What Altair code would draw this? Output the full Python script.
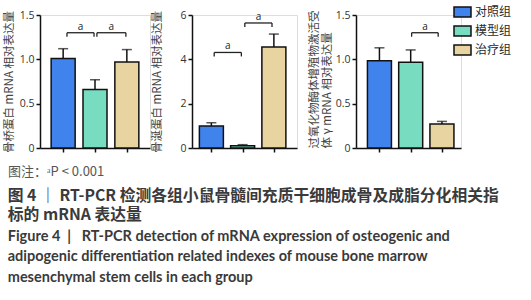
import altair as alt
import pandas as pd

groups = ["对照组", "模型组", "治疗组"]
colors = ["#4083ec", "#77dcc0", "#e8d4a0"]

# panel values (mean, error)
opn_mean = [1.01, 0.66, 0.97]
opn_err = [0.11, 0.11, 0.14]
bsp_mean = [0.99, 0.10, 4.56]
bsp_err = [0.15, 0.05, 0.58]
ppar_mean = [0.985, 0.966, 0.27]
ppar_err = [0.145, 0.14, 0.03]

titles = [
    "骨桥蛋白 mRNA 相对表达量",
    "骨涎蛋白 mRNA 相对表达量",
    ["过氧化物酶体增殖物激活受", "体 γ mRNA 相对表达量"],
]
y_max = [1.5, 6, 1.5]
y_ticks = [[0, 0.5, 1.0, 1.5], [0, 2, 4, 6], [0, 0.5, 1.0, 1.5]]

# significance brackets: start idx, end idx, height, label
br1_start, br1_end, br1_h = [0.12, 1.06], [0.97, 1.97], [1.30, 1.30]
br2_start, br2_end, br2_h = [0.09, 1.07], [0.96, 1.94], [4.31, 5.64]
br3_start, br3_end, br3_h = [1.03], [1.88], [1.30]

caption_note = "图注：ᵃP < 0.001"
caption_cn = ["图 4 ｜ RT-PCR 检测各组小鼠骨髓间充质干细胞成骨及成脂分化相关指", "标的 mRNA 表达量"]
caption_en = [
    "Figure 4\u00a0\u00a0|\u00a0\u00a0 RT-PCR detection of mRNA expression of osteogenic and",
    "adipogenic differentiation related indexes of mouse bone marrow",
    "mesenchymal stem cells in each group",
]

CJK = "Noto Sans CJK SC"


def panel(means, errs, title, ymax, ticks, bs, be, bh, xdom, width, tpad, legend=False, note=False):
    df = pd.DataFrame({
        "idx": [0, 1, 2],
        "group": groups,
        "value": means,
        "top": [m + e for m, e in zip(means, errs)],
    })
    bdf = pd.DataFrame({"x1": bs, "x2": be, "h": bh, "label": ["a"] * len(bs)})
    xs = alt.Scale(domain=xdom, nice=False, zero=False)
    ys = alt.Scale(domain=[0, ymax], nice=False)
    fmt = "datum.value == 0 ? '0' : format(datum.value, '.1f')" if ymax < 2 else "format(datum.value, 'd')"
    xaxis = alt.Axis(values=[0, 1, 2], labels=False, title=None, grid=False,
                     tickSize=4, tickWidth=1.5, domainWidth=1.5,
                     domainColor="#111", tickColor="#111")
    extra = {}
    if isinstance(title, list):
        extra = dict(titleAnchor="start", titleAlign="left")
    yaxis = alt.Axis(values=ticks, labelExpr=fmt, title=title, grid=False,
                     tickSize=4, tickWidth=1.5, domainWidth=1.5,
                     domainColor="#111", tickColor="#111",
                     labelFontSize=10.5, labelColor="#333", labelPadding=2,
                     titleFontSize=11.5, titleFont=CJK, titleFontWeight="normal",
                     titleColor="#444", titlePadding=tpad, titleLineHeight=13,
                     labelFont="Open Sans", **extra)
    if legend:
        leg = alt.Legend(title=None, orient="none", legendX=100.5, legendY=-9,
                         symbolType="M-1.7,-1L1.7,-1L1.7,1L-1.7,1Z", symbolSize=100,
                         symbolStrokeColor="#111", symbolStrokeWidth=1.5, symbolOpacity=1,
                         labelFont=CJK, labelFontSize=12, labelColor="#2a2a2a",
                         labelOffset=6.5, rowPadding=3, padding=0)
    else:
        leg = None
    bars = alt.Chart(df).mark_bar(size=24, stroke="#111", strokeWidth=1.5, opacity=1).encode(
        x=alt.X("idx:Q", scale=xs, axis=xaxis),
        y=alt.Y("value:Q", scale=ys, axis=yaxis),
        color=alt.Color("group:N", scale=alt.Scale(domain=groups, range=colors), legend=leg),
    )
    err = alt.Chart(df).mark_rule(strokeWidth=1.5, color="#111").encode(
        x=alt.X("idx:Q", scale=xs), y=alt.Y("value:Q", scale=ys), y2="top:Q")
    cap = alt.Chart(df).mark_tick(orient="horizontal", size=10, thickness=1.5, color="#111").encode(
        x=alt.X("idx:Q", scale=xs), y=alt.Y("top:Q", scale=ys))
    leg_len = ymax * 0.03
    bb = alt.Chart(bdf).transform_calculate(
        low=f"datum.h - {leg_len}", mid="(datum.x1 + datum.x2) / 2")
    hline = bb.mark_rule(strokeWidth=1.3, color="#222").encode(
        x=alt.X("x1:Q", scale=xs), x2="x2:Q", y=alt.Y("h:Q", scale=ys))
    lleg = bb.mark_rule(strokeWidth=1.3, color="#222").encode(
        x=alt.X("x1:Q", scale=xs), y=alt.Y("h:Q", scale=ys), y2="low:Q")
    rleg = bb.mark_rule(strokeWidth=1.3, color="#222").encode(
        x=alt.X("x2:Q", scale=xs), y=alt.Y("h:Q", scale=ys), y2="low:Q")
    lab = bb.mark_text(fontSize=10, dy=-6, color="#222", font="Open Sans").encode(
        x=alt.X("mid:Q", scale=xs), y=alt.Y("h:Q", scale=ys), text="label:N")
    layers = [err, cap, bars, hline, lleg, rleg, lab]
    if note:
        ndf = pd.DataFrame({"t": [caption_note]})
        layers.append(alt.Chart(ndf).mark_text(
            align="left", baseline="middle", font=CJK, fontSize=13, color="#555").encode(
            x=alt.value(-32), y=alt.value(157), text="t:N"))
    return alt.layer(*layers).properties(width=width, height=133)


p1 = panel(opn_mean, opn_err, titles[0], y_max[0], y_ticks[0],
           br1_start, br1_end, br1_h, [-0.57, 2.57], 110, 5, note=True)
p2 = panel(bsp_mean, bsp_err, titles[1], y_max[1], y_ticks[1],
           br2_start, br2_end, br2_h, [-0.46, 2.58], 105, 17)
p3 = panel(ppar_mean, ppar_err, titles[2], y_max[2], y_ticks[2],
           br3_start, br3_end, br3_h, [-0.59, 2.45], 105, 3, legend=True)

chart = alt.hconcat(
    alt.hconcat(p1, p2, spacing=0).resolve_scale(color="independent"),
    p3, spacing=9).resolve_scale(color="independent").properties(
    title=alt.TitleParams(
        text=caption_cn, subtitle=caption_en, orient="bottom", anchor="start",
        frame="bounds", dx=5, offset=9,
        font=CJK, fontSize=15.8, fontWeight="bold", color="#3a3a3a", lineHeight=19.5,
        subtitleFont="Lato", subtitleFontSize=14.5, subtitleFontWeight="bold",
        subtitleColor="#3a3a3a", subtitleLineHeight=20.5, subtitlePadding=6),
    padding={"left": 2, "top": 5, "right": 0, "bottom": 0}
).configure_view(stroke=None).configure(background="white")

chart.save("out.html", embed_options={"renderer": "svg", "actions": False})
